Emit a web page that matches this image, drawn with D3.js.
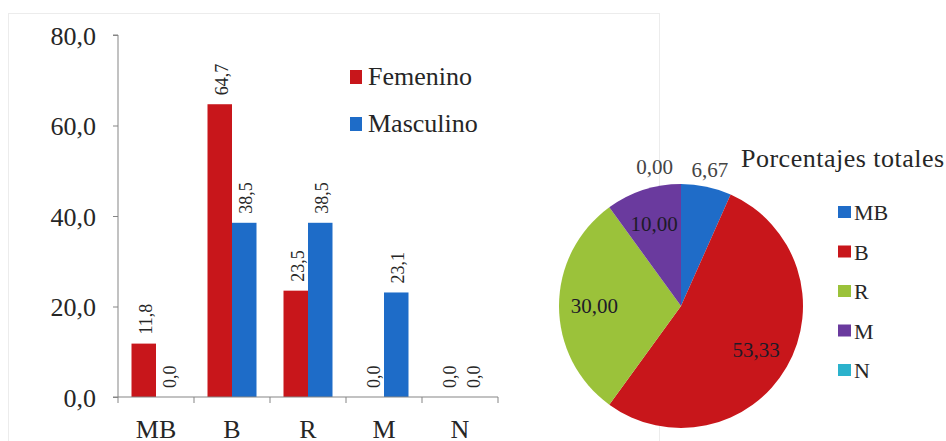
<!DOCTYPE html>
<html><head><meta charset="utf-8">
<script src="https://cdn.jsdelivr.net/npm/d3@7"></script>
<style>body{margin:0;background:#fff}svg{display:block}</style>
</head><body><svg id="c" width="946" height="441"></svg>
<script>
const categories = ["MB","B","R","M","N"];
const femenino = [11.8,64.7,23.5,0.0,0.0];
const masculino = [0.0,38.5,38.5,23.1,0.0];
const seriesNames = ["Femenino","Masculino"];
const yTicks = [0,20,40,60,80];
const pieCategories = ["MB","B","R","M","N"];
const pieValues = [6.67,53.33,30.00,10.00,0.00];
const pieTitle = "Porcentajes totales";

const FONT = '"Liberation Serif"';
const svg = d3.select("#c");
const fmt1 = v => v.toFixed(1).replace(".", ",");
const fmt2 = v => v.toFixed(2).replace(".", ",");
const barColors = ["#c8161b","#1e6cc8"];
const axisColor = "#858585";
const txt = "#262626";

// faint frame
svg.append("rect").attr("x",8.5).attr("y",13.5).attr("width",651).attr("height",440)
  .attr("fill","none").attr("stroke","#ececec");

// ---- bar chart ----
const x0 = 118, x1 = 498, yb = 397, yt = 35;
const x = d3.scaleBand().domain(categories).range([x0,x1]).paddingInner(0).paddingOuter(0);
const y = d3.scaleLinear().domain([0,80]).range([yb,yt]);
const barW = 24.5;
const xs = d3.scaleBand().domain(seriesNames).range([0,barW*2]);

const data = [femenino, masculino];
const g = svg.append("g");
seriesNames.forEach((s,si)=>{
  categories.forEach((c,ci)=>{
    const v = data[si][ci];
    const bx = x(c) + (x.bandwidth()-barW*2)/2 + xs(s);
    if (v>0) g.append("rect").attr("x",bx).attr("y",y(v)).attr("width",xs.bandwidth()).attr("height",yb-y(v)).attr("fill",barColors[si]);
    const lx = bx + xs.bandwidth()/2, ly = y(v) - 9;
    g.append("text").attr("transform",`translate(${lx},${ly}) rotate(-90)`)
      .attr("dy","0.45em").attr("font-size",18).attr("fill",txt).style("font-family",FONT).text(fmt1(v));
  });
});

// y axis
const ya = svg.append("g").attr("transform",`translate(${x0},0)`)
  .call(d3.axisLeft(y).tickValues(yTicks).tickSize(5).tickPadding(0).tickFormat(fmt1));
ya.select(".domain").attr("stroke",axisColor).attr("d",`M-5,${yt}H0V${yb}`);
ya.selectAll(".tick line").attr("stroke",axisColor);
ya.selectAll(".tick text").attr("x",-22).attr("dy","0.36em")
  .attr("font-size",26).attr("fill",txt).attr("text-anchor","end").style("font-family",FONT);

// x axis
const xa = svg.append("g").attr("transform",`translate(0,${yb})`);
xa.append("line").attr("x1",x0-5).attr("x2",x1).attr("y1",0).attr("y2",0).attr("stroke",axisColor);
const bounds = categories.map(c=>x(c)).concat([x1]);
xa.selectAll("line.t").data(bounds).join("line").attr("class","t")
  .attr("x1",d=>d).attr("x2",d=>d).attr("y1",0).attr("y2",6).attr("stroke",axisColor);
xa.selectAll("text").data(categories).join("text")
  .attr("x",d=>x(d)+x.bandwidth()/2).attr("y",41)
  .attr("text-anchor","middle").attr("font-size",26).attr("fill",txt).style("font-family",FONT).text(d=>d);

// legend
const lg = svg.append("g");
seriesNames.forEach((s,i)=>{
  const ly = 77 + i*47;
  lg.append("rect").attr("x",350).attr("y",ly-7).attr("width",12).attr("height",14).attr("fill",barColors[i]);
  lg.append("text").attr("x",368).attr("y",ly+8)
    .attr("font-size",26).attr("fill",txt).style("font-family",FONT).text(s);
});

// ---- pie ----
const pieColors = ["#1f6cc8","#c8161b","#9bc23a","#6a3a9e","#2bb2cc"];
const cx = 681, cy = 306, R = 122;
const pie = d3.pie().sort(null).value(d=>d)(pieValues);
const arc = d3.arc().innerRadius(0).outerRadius(R);
const pg = svg.append("g").attr("transform",`translate(${cx},${cy})`);
pg.selectAll("path").data(pie).join("path").attr("d",arc).attr("fill",(d,i)=>pieColors[i]);

const inArc = d3.arc().innerRadius(R*0.71).outerRadius(R*0.71);
const outArc = d3.arc().innerRadius(R*1.14).outerRadius(R*1.14);
pie.forEach((d,i)=>{
  const frac = d.data/100;
  let px, py, anchor="middle", col="#1e1a28";
  if (frac >= 0.08) { [px,py] = inArc.centroid(d); }
  else { [px,py] = outArc.centroid(d); col="#444";
    if (frac===0) { anchor="end"; px = px - 8; } }
  pg.append("text").attr("x",px).attr("y",py)
    .attr("dy","0.35em").attr("text-anchor",anchor).attr("font-size",21).attr("fill",col)
    .style("font-family",FONT).text(fmt2(d.data));
});

svg.append("text").attr("x",741).attr("y",167).style("letter-spacing","0.5px")
  .attr("font-size",26).attr("fill",txt).style("font-family",FONT).text(pieTitle);

const pl = svg.append("g");
pieCategories.forEach((c,i)=>{
  const ly = 212 + i*39.5;
  pl.append("rect").attr("x",838).attr("y",ly-6).attr("width",13).attr("height",12).attr("fill",pieColors[i]);
  pl.append("text").attr("x",854).attr("y",ly+8)
    .attr("font-size",22).attr("fill",txt).style("font-family",FONT).text(c);
});
</script></body></html>
